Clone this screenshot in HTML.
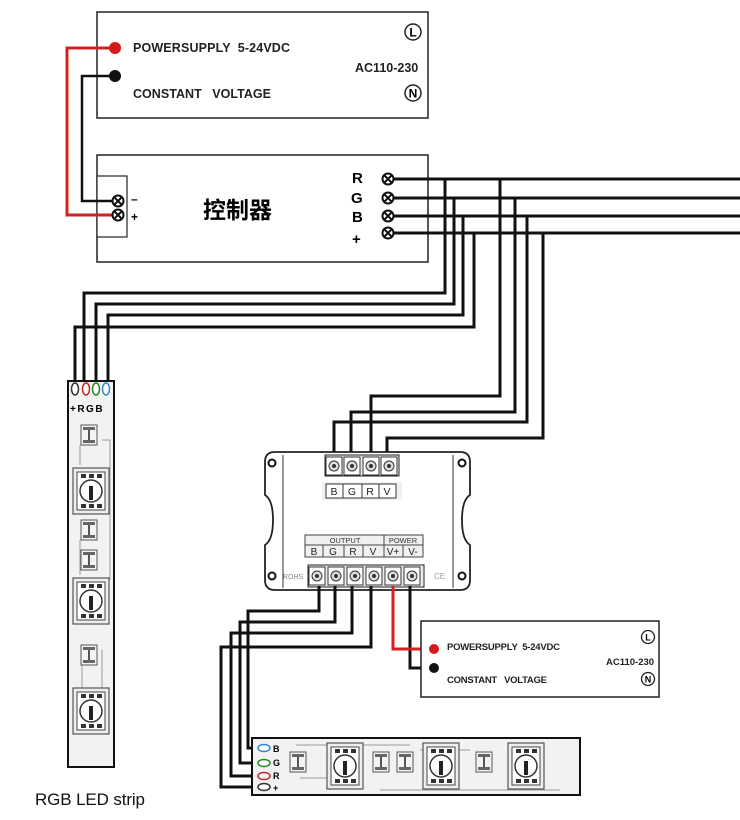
<!DOCTYPE html>
<html><head><meta charset="utf-8"><style>html,body{margin:0;padding:0;background:#fff}svg{display:block}</style></head><body>
<svg width="740" height="820" viewBox="0 0 740 820" xmlns="http://www.w3.org/2000/svg" font-family="Liberation Sans, DejaVu Sans, sans-serif">
<defs>
<g id="chip"><rect x="0" y="0" width="36" height="46" fill="#eee" stroke="#555" stroke-width="1.2"/><rect x="4" y="4" width="28" height="38" fill="#fff" stroke="#444"/><circle cx="18" cy="23" r="11" fill="none" stroke="#333" stroke-width="1.5"/><rect x="16" y="18" width="4" height="14" fill="#222"/><rect x="8" y="6" width="5" height="4" fill="#333"/><rect x="16" y="6" width="5" height="4" fill="#333"/><rect x="24" y="6" width="5" height="4" fill="#333"/><rect x="8" y="36" width="5" height="4" fill="#333"/><rect x="16" y="36" width="5" height="4" fill="#333"/><rect x="24" y="36" width="5" height="4" fill="#333"/></g>
<g id="res"><rect x="0" y="0" width="16" height="20" fill="#f4f4f4" stroke="#555"/><rect x="2" y="2" width="12" height="3" fill="#666"/><rect x="2" y="15" width="12" height="3" fill="#666"/><rect x="7" y="5" width="2" height="10" fill="#555"/></g>
<g id="term"><rect x="-8" y="-9" width="16" height="18" fill="#fff" stroke="#333"/><circle r="5" fill="#ddd" stroke="#333"/><circle r="2" fill="#333"/></g>
<g id="xt"><circle r="5.5" fill="#fff" stroke="#111" stroke-width="2"/><path d="M-3.5,-3.5L3.5,3.5M3.5,-3.5L-3.5,3.5" stroke="#111" stroke-width="2"/></g>
</defs>

<rect x="97" y="12" width="331" height="106" fill="#fff" stroke="#222" stroke-width="1.5"/>
<text x="133" y="52" font-size="12.5" font-weight="bold" fill="#222" textLength="157" xml:space="preserve">POWERSUPPLY  5-24VDC</text>
<text x="133" y="98" font-size="12.5" font-weight="bold" fill="#222" textLength="138" xml:space="preserve">CONSTANT   VOLTAGE</text>
<text x="355" y="72" font-size="12.5" font-weight="bold" fill="#222">AC110-230</text>
<circle cx="413" cy="32" r="8" fill="#fff" stroke="#222" stroke-width="1.5"/><text x="413" y="36.5" font-size="12" font-weight="bold" text-anchor="middle">L</text>
<circle cx="413" cy="93" r="8" fill="#fff" stroke="#222" stroke-width="1.5"/><text x="413" y="97.5" font-size="12" font-weight="bold" text-anchor="middle">N</text>

<rect x="97" y="155" width="331" height="107" fill="#fff" stroke="#222" stroke-width="1.5"/>
<rect x="97" y="176" width="30" height="61" fill="#fff" stroke="#222" stroke-width="1.2"/>
<text x="131" y="203" font-size="12" font-weight="bold">–</text>
<text x="131" y="221" font-size="12" font-weight="bold">+</text>
<text x="203" y="218" font-size="23" font-weight="bold" font-family="Noto Sans CJK SC, sans-serif">控制器</text>
<text x="352" y="183" font-size="15" font-weight="bold">R</text>
<text x="351" y="203" font-size="15" font-weight="bold">G</text>
<text x="352" y="222" font-size="15" font-weight="bold">B</text>
<text x="352" y="244" font-size="15" font-weight="bold">+</text>

<path d="M115,48H67V215H117" fill="none" stroke="#d42020" stroke-width="3"/>
<path d="M115,76H82V201H117" fill="none" stroke="#111" stroke-width="2.5"/>
<circle cx="115" cy="48" r="6" fill="#d41a1a"/><circle cx="115" cy="76" r="6" fill="#111"/>
<use href="#xt" x="118" y="201"/><use href="#xt" x="118" y="215"/>

<g fill="none" stroke="#111" stroke-width="3">
<path d="M388,179H740M388,198H740M388,216H740M388,233H740"/>
<path d="M445,179V293H84V383"/>
<path d="M454,198V304H96V383"/>
<path d="M463,216V315H108V383"/>
<path d="M474,233V327H75V383"/>
<path d="M500,179V396H371V455"/>
<path d="M515,198V412H351V455"/>
<path d="M527,216V422H334V455"/>
<path d="M543,233V438H387V455"/>
</g>
<use href="#xt" x="388" y="179"/><use href="#xt" x="388" y="198"/><use href="#xt" x="388" y="216"/><use href="#xt" x="388" y="233"/>

<rect x="68" y="381" width="46" height="386" fill="#f2f2f2" stroke="#111" stroke-width="2"/>
<g stroke-width="1.5" fill="#fff"><ellipse cx="75" cy="389" rx="3.5" ry="6" stroke="#333"/><ellipse cx="86" cy="389" rx="3.5" ry="6" stroke="#c22"/><ellipse cx="96" cy="389" rx="3.5" ry="6" stroke="#282"/><ellipse cx="106" cy="389" rx="3.5" ry="6" stroke="#38c"/></g>
<text x="70" y="412" font-size="10" font-weight="bold" letter-spacing="1.5">+RGB</text>
<path d="M80,445V465M102,440H110V580M80,540V575M102,650V690M82,650V690" stroke="#999" fill="none"/>
<use href="#res" x="81" y="425"/><use href="#chip" x="73" y="468"/><use href="#res" x="81" y="520"/><use href="#res" x="81" y="550"/><use href="#chip" x="73" y="578"/><use href="#res" x="81" y="645"/><use href="#chip" x="73" y="688"/>
<text x="35" y="805" font-size="17" fill="#111" textLength="110">RGB LED strip</text>

<path d="M275,452H460Q470,452 470,462V495Q462,500 462,520Q462,540 470,545V580Q470,590 460,590H275Q265,590 265,580V545Q273,540 273,520Q273,500 265,495V462Q265,452 275,452Z" fill="#fff" stroke="#222" stroke-width="1.8"/>
<line x1="283" y1="455" x2="283" y2="588" stroke="#333"/><line x1="453" y1="455" x2="453" y2="588" stroke="#333"/>
<circle cx="272" cy="463" r="3.5" fill="#fff" stroke="#111" stroke-width="2"/><circle cx="462" cy="463" r="3.5" fill="#fff" stroke="#111" stroke-width="2"/>
<circle cx="272" cy="576" r="3.5" fill="#fff" stroke="#111" stroke-width="2"/><circle cx="462" cy="576" r="3.5" fill="#fff" stroke="#111" stroke-width="2"/>
<rect x="325" y="455" width="74" height="21" fill="#eee" stroke="#222"/>
<use href="#term" x="334" y="466"/><use href="#term" x="352" y="466"/><use href="#term" x="371" y="466"/><use href="#term" x="389" y="466"/>
<rect x="322" y="482" width="80" height="18" fill="#f0f0f0"/>
<g fill="#fff" stroke="#333"><rect x="326" y="484" width="17" height="14"/><rect x="343" y="484" width="19" height="14"/><rect x="362" y="484" width="17" height="14"/><rect x="379" y="484" width="17" height="14"/></g>
<g font-size="10.5" text-anchor="middle" fill="#222"><text x="334" y="495">B</text><text x="352" y="495">G</text><text x="370" y="495">R</text><text x="387" y="495">V</text></g>
<rect x="305" y="535" width="118" height="22" fill="#f0f0f0" stroke="#444"/>
<path d="M305,545H423M384,535V557M323,545V557M344,545V557M363,545V557M403,545V557" stroke="#444"/>
<g font-size="7.5" text-anchor="middle" fill="#333"><text x="345" y="543">OUTPUT</text><text x="403" y="543">POWER</text></g>
<g font-size="10" text-anchor="middle" fill="#222"><text x="314" y="555">B</text><text x="333" y="555">G</text><text x="353" y="555">R</text><text x="373" y="555">V</text><text x="393" y="555">V+</text><text x="413" y="555">V-</text></g>
<rect x="308" y="565" width="116" height="22" fill="#eee" stroke="#222"/>
<use href="#term" x="317" y="576"/><use href="#term" x="336" y="576"/><use href="#term" x="355" y="576"/><use href="#term" x="374" y="576"/><use href="#term" x="393" y="576"/><use href="#term" x="412" y="576"/>
<text x="283" y="579" font-size="7" fill="#888">ROHS</text><text x="434" y="579" font-size="8" fill="#999">CE</text>

<g fill="none" stroke="#111" stroke-width="3">
<path d="M319,586V611H248V748H262"/>
<path d="M335,586V622H240V763H262"/>
<path d="M352,586V633H231V776H262"/>
<path d="M371,586V647H221V787H262"/>
<path d="M410,586V668H434"/>
</g>
<path d="M393,586V649H434" fill="none" stroke="#d42020" stroke-width="3"/>

<rect x="421" y="621" width="238" height="76" fill="#fff" stroke="#222" stroke-width="1.5"/>
<circle cx="434" cy="649" r="5" fill="#d41a1a"/><circle cx="434" cy="668" r="5" fill="#111"/>
<text x="447" y="650" font-size="9.5" font-weight="bold" fill="#222" textLength="113" xml:space="preserve">POWERSUPPLY  5-24VDC</text>
<text x="447" y="683" font-size="9.5" font-weight="bold" fill="#222" textLength="100" xml:space="preserve">CONSTANT   VOLTAGE</text>
<text x="606" y="665" font-size="9.5" font-weight="bold" fill="#222">AC110-230</text>
<circle cx="648" cy="637" r="6.5" fill="#fff" stroke="#222" stroke-width="1.3"/><text x="648" y="640.5" font-size="9" font-weight="bold" text-anchor="middle">L</text>
<circle cx="648" cy="679" r="6.5" fill="#fff" stroke="#222" stroke-width="1.3"/><text x="648" y="682.5" font-size="9" font-weight="bold" text-anchor="middle">N</text>

<rect x="252" y="738" width="328" height="57" fill="#f2f2f2" stroke="#111" stroke-width="2"/>
<g stroke-width="1.5" fill="#fff"><ellipse cx="264" cy="748" rx="6" ry="3.5" stroke="#38c"/><ellipse cx="264" cy="763" rx="6" ry="3.5" stroke="#282"/><ellipse cx="264" cy="776" rx="6" ry="3.5" stroke="#c22"/><ellipse cx="264" cy="787" rx="6" ry="3.5" stroke="#333"/></g>
<g font-size="9" font-weight="bold"><text x="273" y="752">B</text><text x="273" y="766">G</text><text x="273" y="779">R</text><text x="273" y="791">+</text></g>
<path d="M296,745H410M300,778H330V790M380,790H560M420,750H470" stroke="#999" fill="none"/>
<use href="#res" x="290" y="752"/><use href="#chip" x="327" y="743"/><use href="#res" x="373" y="752"/><use href="#res" x="397" y="752"/><use href="#chip" x="423" y="743"/><use href="#res" x="476" y="752"/><use href="#chip" x="508" y="743"/>
</svg>
</body></html>
